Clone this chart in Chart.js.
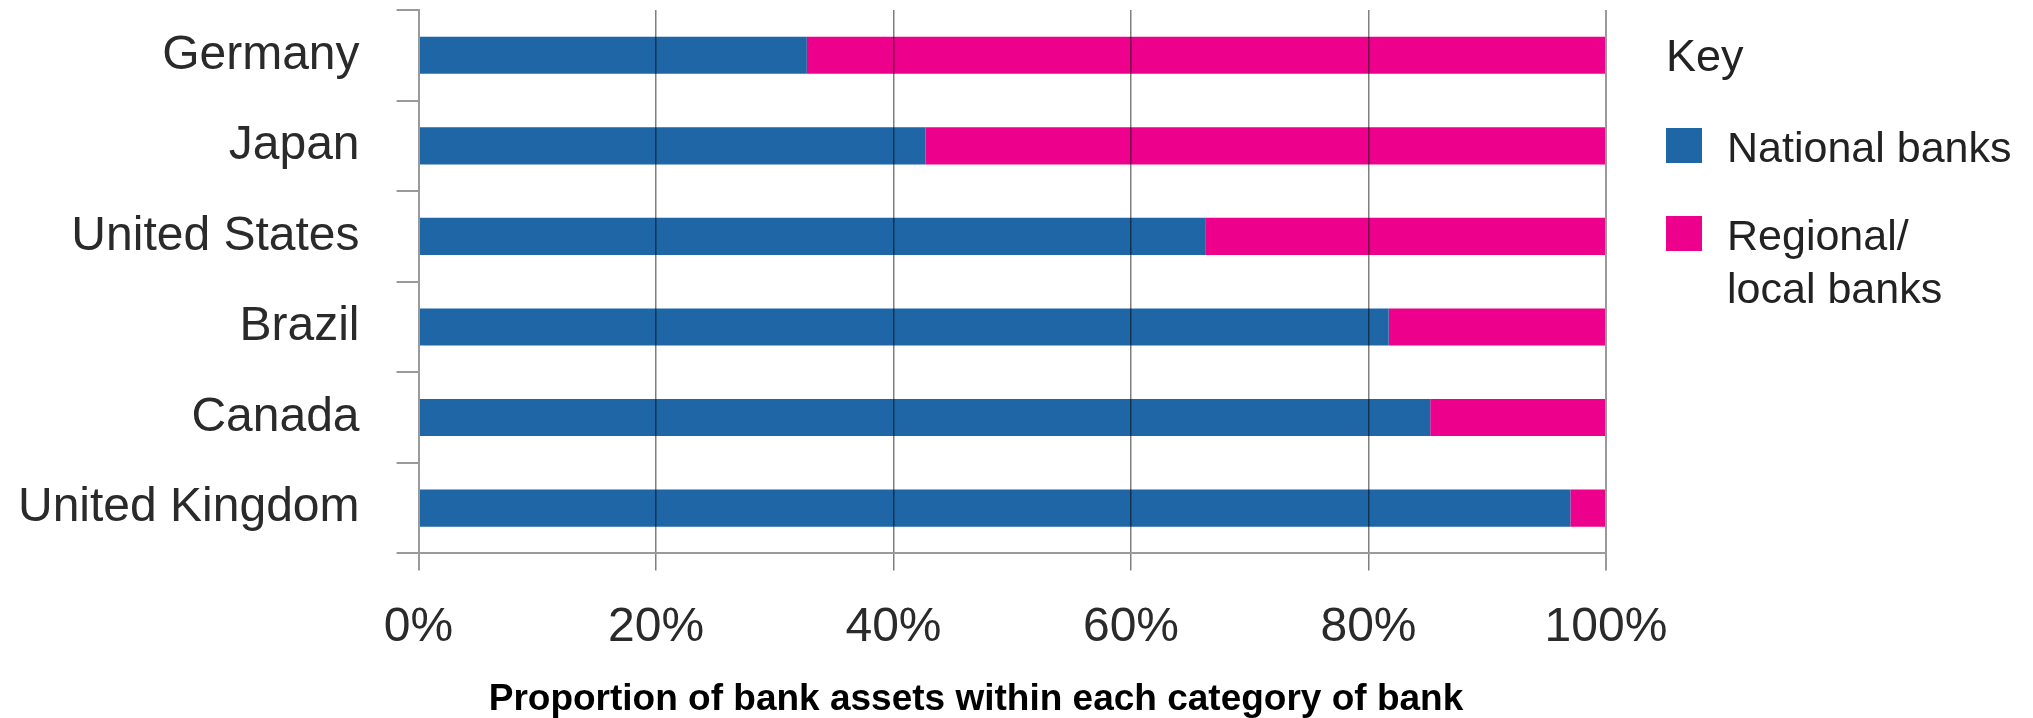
<!DOCTYPE html>
<html>
<head>
<meta charset="utf-8">
<script src="https://cdn.jsdelivr.net/npm/chart.js@4.4.1/dist/chart.umd.min.js"></script>
<style>
  html, body { margin: 0; padding: 0; background: #fff; }
  #wrap { position: relative; width: 2033px; height: 718px; overflow: hidden; }
  #legend { position: absolute; left: 1666px; top: 29px; font-family: "Liberation Sans", Arial, sans-serif; font-size: 43px; line-height: 53px; color: #222; white-space: pre; }
  #legend .key { font-size: 45px; margin-bottom: 39px; }
  #legend .row { display: flex; align-items: flex-start; margin-bottom: 34.5px; }
  #legend .box { width: 36px; height: 35px; margin-top: 7px; margin-right: 25px; flex: none; }
  #caption { position: absolute; left: 0; top: 679px; width: 1952px; text-align: center; font-family: "Liberation Sans", Arial, sans-serif; font-weight: bold; font-size: 37px; line-height: 1; color: #000; }
</style>
</head>
<body>
<div id="wrap">
  <canvas id="myChart"></canvas>
  <div id="legend"></div>
  <div id="caption">Proportion of bank assets within each category of bank</div>
</div>
<script>
  // Countries, top to bottom
  var countries = ['Germany', 'Japan', 'United States', 'Brazil', 'Canada', 'United Kingdom'];

  // Share of bank assets (%)
  var nationalBanks = [32.7, 42.7, 66.3, 81.7, 85.2, 97.0];
  var regionalBanks = [67.3, 57.3, 33.7, 18.3, 14.8, 3.0];

  var seriesNames = ['National banks', 'Regional/\nlocal banks'];
  var xTicks = [0, 20, 40, 60, 80, 100];

  var blue = '#1e66a5';
  var pink = '#ec008c';
  var axisGrey = '#9a9a9a';
  var labelFont = { family: '"Liberation Sans", Arial, sans-serif', size: 48 };

  // Chart.js pads ticks on both sides; keep it only between label and axis
  function trimPadding(scale) {
    var pad = scale.options.ticks.padding;
    if (scale.isHorizontal()) {
      scale.height -= pad;
    } else {
      scale.width -= pad;
      scale.paddingTop = 0;
      scale.paddingBottom = 0;
    }
  }

  var ctx = document.getElementById('myChart').getContext('2d');

  var myChart = new Chart(ctx, {
    type: 'bar',
    data: {
      labels: countries,
      datasets: [{
        label: seriesNames[0],
        data: nationalBanks,
        backgroundColor: blue
      }, {
        label: seriesNames[1],
        data: regionalBanks,
        backgroundColor: pink
      }]
    },
    options: {
      indexAxis: 'y',
      responsive: true,
      maintainAspectRatio: false,
      animation: false,
      datasets: {
        bar: { categoryPercentage: 1, barPercentage: 0.41 }
      },
      layout: {
        padding: { left: 18, right: 427, top: 10, bottom: 61 }
      },
      plugins: {
        legend: { display: false },
        tooltip: { enabled: false }
      },
      scales: {
        x: {
          stacked: true,
          min: 0,
          max: 100,
          afterBuildTicks: function (scale) {
            scale.ticks = xTicks.map(function (v) { return { value: v }; });
          },
          afterFit: trimPadding,
          grid: {
            color: function (c) {
              return (c.tick && (c.tick.value === 0 || c.tick.value === 100)) ? axisGrey : 'rgba(0,0,0,0.5)';
            },
            lineWidth: function (c) {
              return (c.tick && (c.tick.value === 0 || c.tick.value === 100)) ? 2 : 1.5;
            },
            tickLength: 17,
            z: 1
          },
          border: { color: axisGrey, width: 2, z: 1 },
          ticks: {
            padding: 29,
            color: '#2a2a2a',
            font: labelFont,
            maxRotation: 0,
            callback: function (v) { return v + '%'; }
          }
        },
        y: {
          stacked: true,
          afterFit: trimPadding,
          grid: { drawOnChartArea: false, tickLength: 22, color: axisGrey, lineWidth: 2 },
          border: { color: axisGrey, width: 2 },
          ticks: {
            padding: 37,
            color: '#2a2a2a',
            font: labelFont
          }
        }
      }
    }
  });

  // Key built from the chart's own datasets
  var legendEl = document.getElementById('legend');
  var key = document.createElement('div');
  key.className = 'key';
  key.textContent = 'Key';
  legendEl.appendChild(key);
  myChart.data.datasets.forEach(function (ds) {
    var row = document.createElement('div');
    row.className = 'row';
    var box = document.createElement('span');
    box.className = 'box';
    box.style.background = ds.backgroundColor;
    var txt = document.createElement('span');
    txt.textContent = ds.label;
    row.appendChild(box);
    row.appendChild(txt);
    legendEl.appendChild(row);
  });
</script>
</body>
</html>
